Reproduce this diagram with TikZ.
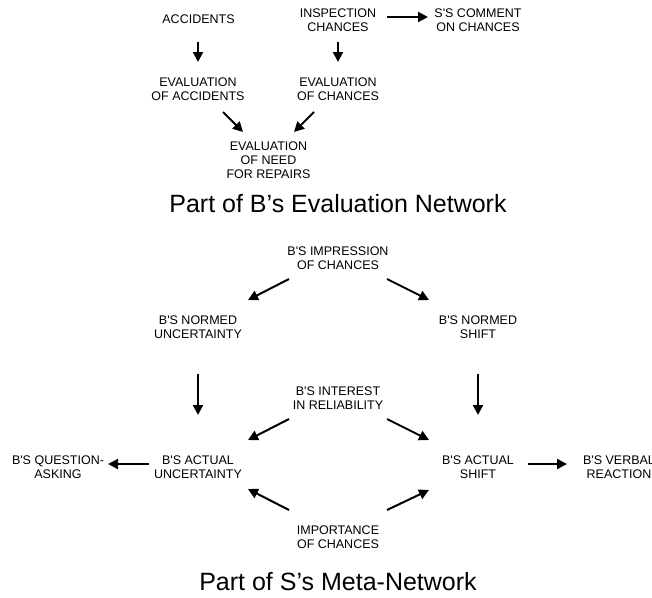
\documentclass[tikz,border=0pt]{standalone}
\usepackage{fontspec}
\setmainfont{Liberation Sans}
\usetikzlibrary{arrows.meta,calc}
\tikzset{
  lab/.style={inner sep=0pt, align=center, font=\fontsize{12.5}{14}\selectfont},
  ttl/.style={inner sep=0pt, font=\fontsize{25}{30}\selectfont},
  arr/.style={line width=2pt, -{Triangle[length=10pt,width=10pt]}}
}
\newcommand{\q}{\textquotesingle}
\begin{document}
\begin{tikzpicture}[x=1pt,y=-1pt]
\useasboundingbox (0,0) rectangle (652,597);
% Top network
\node[lab] (acc) at (198.5,19.5) {ACCIDENTS};
\node[lab] (insp) at (338,20) {INSPECTION\\CHANCES};
\node[lab] (comm) at (478,20) {S\q S COMMENT\\ON CHANCES};
\node[lab] (evacc) at (198,89.5) {EVALUATION\\OF ACCIDENTS};
\node[lab] (evch) at (338,89.5) {EVALUATION\\OF CHANCES};
\node[lab] (need) at (268.5,160) {EVALUATION\\OF NEED\\FOR REPAIRS};
\node[ttl] (t1) at (338,204) {Part of B’s Evaluation Network};
\draw[arr] ($(insp)+(49,-3)$) -- ($(comm)+(-50,-3)$);
\draw[arr] ($(acc)+(-0.5,22.5)$) -- ($(evacc)+(0,-27.5)$);
\draw[arr] ($(insp)+(0,22)$) -- ($(evch)+(0,-27.5)$);
\draw[arr] ($(evacc)+(25,22.5)$) -- ($(need)+(-25.5,-28)$);
\draw[arr] ($(evch)+(-24,22.5)$) -- ($(need)+(25.5,-28)$);
% Bottom network
\node[lab] (imp) at (338,257.75) {B\q S IMPRESSION\\OF CHANCES};
\node[lab] (nu) at (198,327.25) {B\q S NORMED\\UNCERTAINTY};
\node[lab] (ns) at (478,327.25) {B\q S NORMED\\SHIFT};
\node[lab] (rel) at (338,397.75) {B\q S INTEREST\\IN RELIABILITY};
\node[lab] (au) at (198,467.5) {B\q S ACTUAL\\UNCERTAINTY};
\node[lab] (as) at (478,467.5) {B\q S ACTUAL\\SHIFT};
\node[lab] (qa) at (58,467.5) {B\q S QUESTION-\\ASKING};
\node[lab] (vr) at (619,467.5) {B\q S VERBAL\\REACTION};
\node[lab] (ich) at (338,537.5) {IMPORTANCE\\OF CHANCES};
\node[ttl] (t2) at (338,582) {Part of S’s Meta-Network};
\draw[arr] ($(imp)+(-49,21.25)$) -- ($(nu)+(50,-27.25)$);
\draw[arr] ($(imp)+(49,21.25)$) -- ($(ns)+(-49,-27.25)$);
\draw[arr] ($(nu)+(0,46.75)$) -- ($(au)+(0,-52.5)$);
\draw[arr] ($(ns)+(0,46.75)$) -- ($(as)+(0,-52.5)$);
\draw[arr] ($(rel)+(-49,21.25)$) -- ($(au)+(50,-27.5)$);
\draw[arr] ($(rel)+(49,21.25)$) -- ($(as)+(-49,-27.5)$);
\draw[arr] ($(ich)+(-49,-27.5)$) -- ($(au)+(50,21.5)$);
\draw[arr] ($(ich)+(49,-27.5)$) -- ($(as)+(-49,22.5)$);
\draw[arr] ($(au)+(-49,-3.5)$) -- ($(qa)+(50,-3.5)$);
\draw[arr] ($(as)+(50,-3.5)$) -- ($(vr)+(-52,-3.5)$);
\end{tikzpicture}
\end{document}
